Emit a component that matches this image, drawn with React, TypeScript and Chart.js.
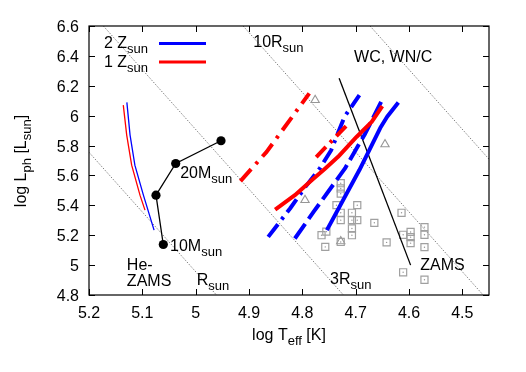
import React, { useEffect, useRef } from "react";
import { Chart, registerables } from "chart.js";
Chart.register(...registerables);

// ---- axis ticks ----
const xTicks = [5.2, 5.1, 5.0, 4.9, 4.8, 4.7, 4.6, 4.5];
const yTicks = [4.8, 5.0, 5.2, 5.4, 5.6, 5.8, 6.0, 6.2, 6.4, 6.6];

// ---- constant-radius lines [logT, logL] ----
const radius1 = [[5.2, 5.755], [4.961, 4.8]];
const radius3 = [[5.173, 6.6], [4.723, 4.8]];
const radius10 = [[4.911, 6.6], [4.461, 4.8]];
const radius30 = [[4.673, 6.6], [4.45, 5.709]];

// ---- He-ZAMS ----
const heZamsBlue = [[5.129, 6.089], [5.123, 5.87], [5.114, 5.669], [5.098, 5.468], [5.078, 5.234]];
const heZamsRed = [[5.1357, 6.071], [5.1293, 5.87], [5.12, 5.669], [5.1044, 5.468], [5.095, 5.368]];

// ---- black track with masses ----
const massTrack = [[5.0607, 5.138], [5.0744, 5.468], [5.0374, 5.68], [4.9525, 5.832]];

// ---- ZAMS ----
const zams = [[4.731, 6.25], [4.597, 5.0]];

// ---- 1 Zsun (red) ----
const redDashDotLong = [[4.916, 5.562], [4.867, 5.758], [4.787, 6.149]];
const redDashDotShort = [[4.774, 5.723], [4.714, 5.945]];
const redSolid = [[4.851, 5.372], [4.814, 5.468], [4.782, 5.569], [4.757, 5.647], [4.733, 5.725], [4.698, 5.859], [4.67, 5.959], [4.65, 6.064]];

// ---- 2 Zsun (blue) ----
const blueDashDot = [[4.864, 5.189], [4.823, 5.379], [4.795, 5.52], [4.767, 5.649], [4.746, 5.769], [4.721, 5.992], [4.693, 6.138]];
const blueDashed = [[4.814, 5.178], [4.779, 5.356], [4.72, 5.647], [4.682, 5.881], [4.649, 6.116]];
const blueSolid = [[4.754, 5.234], [4.693, 5.636], [4.654, 5.917], [4.641, 5.993], [4.62, 6.088]];

// ---- observed stars ----
const starSquares = [
  [4.728, 5.548], [4.728, 5.513], [4.728, 5.478], [4.736, 5.401], [4.728, 5.35], [4.728, 5.301],
  [4.697, 5.401], [4.707, 5.35], [4.707, 5.301], [4.697, 5.301], [4.707, 5.245], [4.707, 5.2],
  [4.665, 5.283], [4.764, 5.2], [4.755, 5.224], [4.757, 5.122], [4.728, 5.155], [4.642, 5.152],
  [4.614, 5.35], [4.611, 5.203], [4.597, 5.222], [4.597, 5.187], [4.597, 5.147],
  [4.571, 5.254], [4.571, 5.203], [4.571, 5.12], [4.611, 4.952], [4.571, 4.902],
];
const starTriangles = [[4.776, 6.104], [4.645, 5.808], [4.795, 5.435], [4.728, 5.159]];

// ---- text labels ----
const labelTexts = [
  { main: "10M", sub: "sun" },
  { main: "20M", sub: "sun" },
  { main: "He-", sub: "" },
  { main: "ZAMS", sub: "" },
  { main: "R", sub: "sun" },
  { main: "3R", sub: "sun" },
  { main: "10R", sub: "sun" },
  { main: "WC, WN/C", sub: "" },
  { main: "ZAMS", sub: "" },
];
// anchor (left, baseline) in data coordinates
const labelAnchors = [
  [5.048, 5.095], [5.029, 5.58], [5.129, 4.966], [5.129, 4.861], [4.998, 4.87],
  [4.748, 4.872], [4.892, 6.461], [4.703, 6.357], [4.579, 4.966],
];

const FONT = "'Liberation Sans', Arial, Helvetica, sans-serif";
const MAIN = 16;
const SUB = 13;

const pts = (a: number[][]) => a.map(([x, y]) => ({ x, y }));

type Part = { t: string; sub?: boolean };

function measureParts(ctx: CanvasRenderingContext2D, parts: Part[]) {
  let w = 0;
  for (const p of parts) {
    ctx.font = `${p.sub ? SUB : MAIN}px ${FONT}`;
    w += ctx.measureText(p.t).width;
  }
  return w;
}

function drawParts(ctx: CanvasRenderingContext2D, parts: Part[], x: number, y: number) {
  ctx.textBaseline = "alphabetic";
  ctx.textAlign = "left";
  let cx = x;
  for (const p of parts) {
    ctx.font = `${p.sub ? SUB : MAIN}px ${FONT}`;
    ctx.fillText(p.t, cx, y + (p.sub ? 5 : 0));
    cx += ctx.measureText(p.t).width;
  }
}

const decorPlugin = {
  id: "decor",
  afterDatasetsDraw(chart: any) {
    const { ctx, chartArea: ca, scales } = chart;
    const xs = scales.x;
    const ys = scales.y;
    ctx.save();
    // frame
    ctx.strokeStyle = "#000";
    ctx.lineWidth = 1.2;
    ctx.strokeRect(ca.left, ca.top, ca.right - ca.left, ca.bottom - ca.top);
    // inward ticks
    const TL = 6;
    ctx.beginPath();
    for (const v of xTicks) {
      const px = Math.round(xs.getPixelForValue(v)) + 0.5;
      ctx.moveTo(px, ca.bottom);
      ctx.lineTo(px, ca.bottom - TL);
      ctx.moveTo(px, ca.top);
      ctx.lineTo(px, ca.top + TL);
    }
    for (const v of yTicks) {
      const py = Math.round(ys.getPixelForValue(v)) + 0.5;
      ctx.moveTo(ca.left, py);
      ctx.lineTo(ca.left + TL, py);
      ctx.moveTo(ca.right, py);
      ctx.lineTo(ca.right - TL, py);
    }
    ctx.lineWidth = 1;
    ctx.stroke();

    ctx.fillStyle = "#000";
    ctx.font = `${MAIN}px ${FONT}`;
    // tick labels
    const fmt = (v: number) => String(Number(v.toFixed(1)));
    ctx.textAlign = "center";
    ctx.textBaseline = "alphabetic";
    for (const v of xTicks) {
      ctx.fillText(fmt(v), xs.getPixelForValue(v), ca.bottom + 23);
    }
    ctx.textAlign = "right";
    for (const v of yTicks) {
      ctx.fillText(fmt(v), ca.left - 10, ys.getPixelForValue(v) + 6);
    }

    // labels
    ctx.fillStyle = "#000";
    labelTexts.forEach((lab, i) => {
      const [tx, ly] = labelAnchors[i];
      const parts: Part[] = [{ t: lab.main }];
      if (lab.sub) parts.push({ t: lab.sub, sub: true });
      drawParts(ctx, parts, xs.getPixelForValue(tx), ys.getPixelForValue(ly));
    });

    // legend
    const legendRows = [
      { parts: [{ t: "2 Z" }, { t: "sun", sub: true }], color: "#0000ff", y: 48 },
      { parts: [{ t: "1 Z" }, { t: "sun", sub: true }], color: "#ff0000", y: 66.5 },
    ];
    for (const row of legendRows) {
      const w = measureParts(ctx, row.parts);
      ctx.fillStyle = "#000";
      drawParts(ctx, row.parts, 148 - w, row.y);
      ctx.beginPath();
      ctx.strokeStyle = row.color;
      ctx.lineWidth = 3;
      ctx.moveTo(159, row.y - 4.5);
      ctx.lineTo(206, row.y - 4.5);
      ctx.stroke();
    }

    // axis titles
    ctx.fillStyle = "#000";
    const xt: Part[] = [{ t: "log T" }, { t: "eff", sub: true }, { t: " [K]" }];
    const xw = measureParts(ctx, xt);
    drawParts(ctx, xt, (ca.left + ca.right) / 2 - xw / 2 + 0, 340);

    const yt: Part[] = [{ t: "log L" }, { t: "ph", sub: true }, { t: " [L" }, { t: "sun", sub: true }, { t: "]" }];
    const yw = measureParts(ctx, yt);
    ctx.save();
    ctx.translate(26, 161);
    ctx.rotate(-Math.PI / 2);
    drawParts(ctx, yt, -yw / 2, 0);
    ctx.restore();

    ctx.restore();
  },
};

export default function App() {
  const ref = useRef<HTMLCanvasElement | null>(null);
  useEffect(() => {
    if (!ref.current) return;
    const dotted = (d: number[][]) => ({
      data: pts(d),
      showLine: true,
      borderColor: "rgb(130,130,130)",
      borderWidth: 1,
      borderDash: [1.5, 1.5],
      pointRadius: 0,
      order: 10,
    });
    const thick = (d: number[][], color: string, dash: number[], order: number) => ({
      data: pts(d),
      showLine: true,
      borderColor: color,
      borderWidth: 4,
      borderDash: dash,
      borderCapStyle: "butt",
      borderJoinStyle: "round",
      pointRadius: 0,
      order,
    });
    const datasets: any[] = [
      dotted(radius1),
      dotted(radius3),
      dotted(radius10),
      dotted(radius30),
      {
        data: pts(starSquares),
        pointStyle: "rect",
        pointRadius: 5,
        pointBorderColor: "rgb(160,160,160)",
        pointBackgroundColor: "rgba(0,0,0,0)",
        pointBorderWidth: 1.2,
        showLine: false,
        order: 8,
      },
      {
        data: pts(starSquares),
        pointStyle: "circle",
        pointRadius: 0.7,
        pointBorderWidth: 0,
        pointBackgroundColor: "rgb(150,150,150)",
        showLine: false,
        order: 8,
      },
      {
        data: pts(starTriangles),
        pointStyle: "triangle",
        pointRadius: 4.8,
        pointBorderColor: "rgb(150,150,150)",
        pointBackgroundColor: "rgba(0,0,0,0)",
        pointBorderWidth: 1.1,
        showLine: false,
        order: 8,
      },
      { data: pts(heZamsBlue), showLine: true, borderColor: "#0000ff", borderWidth: 1.3, pointRadius: 0, order: 5 },
      { data: pts(heZamsRed), showLine: true, borderColor: "#ff0000", borderWidth: 1.3, pointRadius: 0, order: 5 },
      {
        data: pts(massTrack),
        showLine: true,
        borderColor: "#000",
        borderWidth: 1.3,
        pointRadius: 4.6,
        pointBackgroundColor: "#000",
        pointBorderColor: "#000",
        pointBorderWidth: 0,
        order: 4,
      },
      { data: pts(zams), showLine: true, borderColor: "#000", borderWidth: 1.3, pointRadius: 0, order: 6 },
      thick(blueDashDot, "#0000ff", [16, 6, 3, 6], 3),
      thick(blueDashed, "#0000ff", [18, 6], 3),
      thick(blueSolid, "#0000ff", [], 3),
      thick(redDashDotLong, "#ff0000", [16, 7, 3, 7], 2),
      thick(redDashDotShort, "#ff0000", [14, 6, 3, 6], 2),
      thick(redSolid, "#ff0000", [], 2),
    ];
    const chart = new Chart(ref.current, {
      type: "scatter",
      data: { datasets },
      options: {
        animation: false,
        responsive: false,
        maintainAspectRatio: false,
        events: [],
        layout: { padding: { top: 26, right: 37, left: 0, bottom: 0 } },
        plugins: { legend: { display: false }, tooltip: { enabled: false } },
        scales: {
          x: {
            type: "linear",
            reverse: true,
            min: 4.45,
            max: 5.2,
            grid: { display: false, drawTicks: false },
            border: { display: false },
            ticks: { display: false },
            afterBuildTicks: (s: any) => {
              s.ticks = xTicks.map((v) => ({ value: v }));
            },
            afterFit: (s: any) => {
              s.height = 77;
            },
          },
          y: {
            type: "linear",
            min: 4.8,
            max: 6.6,
            grid: { display: false, drawTicks: false },
            border: { display: false },
            ticks: { display: false },
            afterBuildTicks: (s: any) => {
              s.ticks = yTicks.map((v) => ({ value: v }));
            },
            afterFit: (s: any) => {
              s.width = 89;
            },
          },
        },
      } as any,
      plugins: [decorPlugin],
    });
    return () => chart.destroy();
  }, []);
  return (
    <div style={{ position: "absolute", left: 0, top: 0, width: 526, height: 372, background: "#fff" }}>
      <canvas ref={ref} width={526} height={372} style={{ display: "block", width: 526, height: 372 }} />
    </div>
  );
}
